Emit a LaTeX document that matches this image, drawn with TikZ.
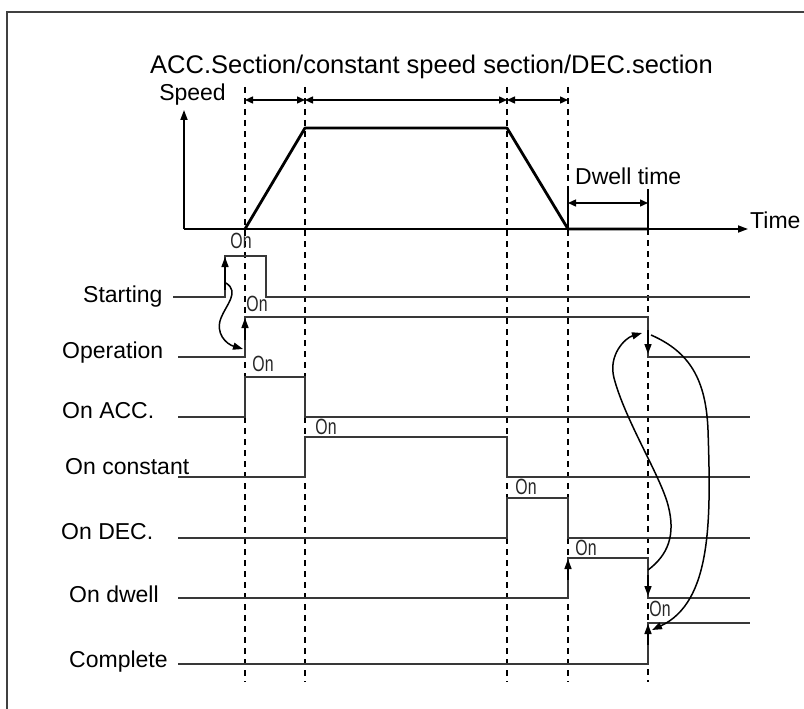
\documentclass[tikz,border=0pt]{standalone}
\usepackage{fontspec}
\setmainfont{Liberation Sans}
\usetikzlibrary{arrows.meta}
\begin{document}
\begin{tikzpicture}[x=1pt,y=-1pt,
  sig/.style={line width=1.6pt, black!78},
  dsh/.style={line width=1.3pt, dash pattern=on 6pt off 5pt},
  lbl/.style={anchor=base west, inner sep=0pt, font=\fontsize{23}{26}\selectfont},
  onmark/.style={inner sep=0pt, font=\fontsize{22}{24}\selectfont, black!85},
  tip/.style={-{Triangle[length=10pt,width=7pt]}},
  dbl/.style={line width=1.4pt,{Triangle[length=8pt,width=7pt]}-{Triangle[length=8pt,width=7pt]}},
  ]
\useasboundingbox (0,0) rectangle (804,709);
% frame
\draw[line width=1.8pt, black!75] (7,709) -- (7,12) -- (804,12);
% header texts
\node[lbl, font=\fontsize{25.5}{28}\selectfont] (head) at (150,74) {ACC.Section/constant speed section/DEC.section};
\node[lbl, anchor=base east] (speed) at (226,101) {Speed};
\node[lbl] (time) at (750,228) {Time};
\node[lbl] (dwell) at (575,184) {Dwell time};
% dashed verticals
\foreach \x in {245,305,507,568} \draw[dsh] (\x,87) -- (\x,682);
\draw[dsh] (648,229) -- (648,682);
% section arrows
\draw[dbl] (245,100) -- (305,100);
\draw[dbl] (305,100) -- (507,100);
\draw[dbl] (507,100) -- (568,100);
% dwell marker
\draw[line width=1.4pt] (568,189) -- (568,229);
\draw[line width=1.4pt] (648,189) -- (648,229);
\draw[dbl] (568,203) -- (648,203);
% axes
\draw[line width=1.7pt, tip] (184,229) -- (748,229);
\draw[line width=1.7pt, tip] (184,229) -- (184,110);
% speed profile
\draw[line width=2.8pt, line join=round] (245,229) -- (305,128) -- (507,128) -- (568,229) -- (648,229);
% labels
\node[lbl] (lStart) at (83,302) {Starting};
\node[lbl] (lOper) at (62,358) {Operation};
\node[lbl] (lAcc) at (62,418) {On ACC.};
\node[lbl] (lConst) at (65,474) {On constant};
\node[lbl] (lDec) at (61,539) {On DEC.};
\node[lbl] (lDwell) at (69,602) {On dwell};
\node[lbl] (lComp) at (69,667) {Complete};
% signals
\draw[sig] (173,297) -- (225,297) -- (225,256) -- (266,256) -- (266,297) -- (750,297);
\draw[sig] (178,357) -- (245,357) -- (245,317) -- (648,317) -- (648,357) -- (750,357);
\draw[sig] (178,417) -- (245,417) -- (245,377) -- (305,377) -- (305,417) -- (750,417);
\draw[sig] (178,477) -- (305,477) -- (305,437) -- (507,437) -- (507,477) -- (750,477);
\draw[sig] (178,538) -- (507,538) -- (507,498) -- (568,498) -- (568,538) -- (750,538);
\draw[sig] (178,598) -- (568,598) -- (568,558) -- (648,558) -- (648,598) -- (750,598);
\draw[sig] (178,664) -- (648,664) -- (648,623) -- (750,623);
% edge arrows
\draw[line width=1.5pt, tip] (225,290) -- (225,257);
\draw[line width=1.5pt, tip] (245,340) -- (245,318);
\draw[line width=1.5pt, tip] (648,330) -- (648,354);
\draw[line width=1.5pt, tip] (568,580) -- (568,559);
\draw[line width=1.5pt, tip] (648,575) -- (648,596);
\draw[line width=1.5pt, tip] (648,645) -- (648,624);
% On markers
\node[onmark] (on1) at (241,241) {\scalebox{0.72}[1]{On}};
\node[onmark] (on2) at (257,304) {\scalebox{0.72}[1]{On}};
\node[onmark] (on3) at (263,364) {\scalebox{0.72}[1]{On}};
\node[onmark] (on4) at (326,427) {\scalebox{0.72}[1]{On}};
\node[onmark] (on5) at (526,487) {\scalebox{0.72}[1]{On}};
\node[onmark] (on6) at (586,548) {\scalebox{0.72}[1]{On}};
\node[onmark] (on7) at (660,609) {\scalebox{0.72}[1]{On}};
% causal curves
\coordinate (sA) at (226,283);
\coordinate (eA) at (243,349);
\draw[line width=1.5pt, tip] (sA) .. controls (240,292) and (226,305) .. (221,318) .. controls (215,333) and (226,344) .. (eA);
\coordinate (sB) at (648,570);
\coordinate (eB) at (642,333);
\draw[line width=1.5pt, tip] (sB) .. controls (668,555) and (676,535) .. (668,505) .. controls (660,475) and (625,420) .. (614,378) .. controls (608,355) and (625,338) .. (eB);
\coordinate (sC) at (651,335);
\coordinate (eC) at (652,630);
\draw[line width=1.5pt, tip] (sC) .. controls (690,352) and (706,380) .. (708,430) .. controls (711,520) and (712,602) .. (eC);
\end{tikzpicture}
\end{document}
